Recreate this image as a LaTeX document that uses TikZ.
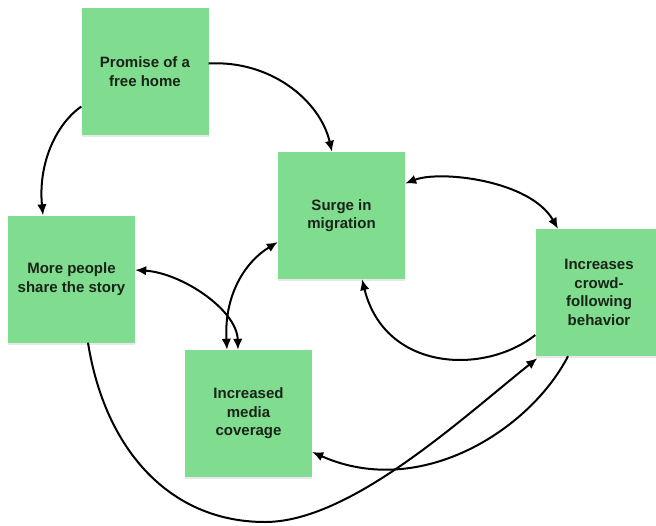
\documentclass[tikz,border=0pt]{standalone}
\usepackage{fontspec}
\setmainfont{Liberation Sans}
\usetikzlibrary{arrows.meta,shadows,calc}
\definecolor{boxgreen}{RGB}{128,220,142}
\definecolor{txt}{RGB}{24,36,24}
\tikzset{
  sticky/.style={fill=boxgreen, draw=none, minimum width=127pt, minimum height=127pt,
    inner sep=0pt, align=center, text=txt,
    font=\fontsize{15}{18.5}\selectfont\bfseries,
    drop shadow={opacity=0.18, shadow xshift=0pt, shadow yshift=-2pt}},
  arr/.style={-{Latex[length=11pt,width=9.5pt]}, line width=2pt, black},
  darr/.style={{Latex[length=11pt,width=9.5pt]}-{Latex[length=11pt,width=9.5pt]}, line width=2pt, black}
}
\begin{document}
\begin{tikzpicture}[x=1pt,y=-1pt]
\useasboundingbox (0,0) rectangle (656,525);
\fill[white] (0,0) rectangle (656,525);
\node[sticky] (prom)  at (145,71.5)   {Promise of a\\free home};
\node[sticky] (more)  at (71.5,279)   {More people\\share the story};
\node[sticky] (surge) at (341.5,215.5){Surge in\\migration};
\node[sticky] (media) at (248.5,413.5){Increased\\media\\coverage};
\node[sticky] (crowd) at (599,292.5)  {Increases\\crowd-\\following\\behavior};

% Promise -> Surge
\draw[arr] ($(prom.east)+(0,-8)$) .. controls (270,60) and (320,100) .. ($(surge.north)+(-9.5,0)$);
% Promise -> More people
\draw[arr] ($(prom.west)+(0,35)$) .. controls (55,125) and (38,165) .. ($(more.north)+(-28.5,0)$);
% Surge <-> Crowd
\draw[darr] ($(surge.east)+(0,-32)$) .. controls (440,170) and (530,180) .. ($(crowd.north)+(-41,0)$);
% Crowd -> Surge
\draw[arr] ($(crowd.west)+(0,42.5)$) .. controls (485,375) and (385,372) .. ($(surge.south)+(20.5,0)$);
% More people <-> Media
\draw[darr] ($(more.east)+(0,-9)$) .. controls (182,273) and (237,310) .. ($(media.north)+(-10.5,0)$);
% Surge <-> Media
\draw[darr] ($(surge.west)+(0,26.5)$) .. controls (245,262) and (224,295) .. ($(media.north)+(-21.5,0)$);
% More people -> Crowd
\draw[arr] ($(more.south)+(16.5,0)$) .. controls (105,450) and (170,522) .. (265,522)
  .. controls (350,522) and (460,420) .. ($(crowd.south west)+(2,2)$);
% Crowd -> Media
\draw[arr] ($(crowd.south)+(-31,0)$) .. controls (530,430) and (420,500) .. ($(media.east)+(0,38.5)$);
\end{tikzpicture}
\end{document}
